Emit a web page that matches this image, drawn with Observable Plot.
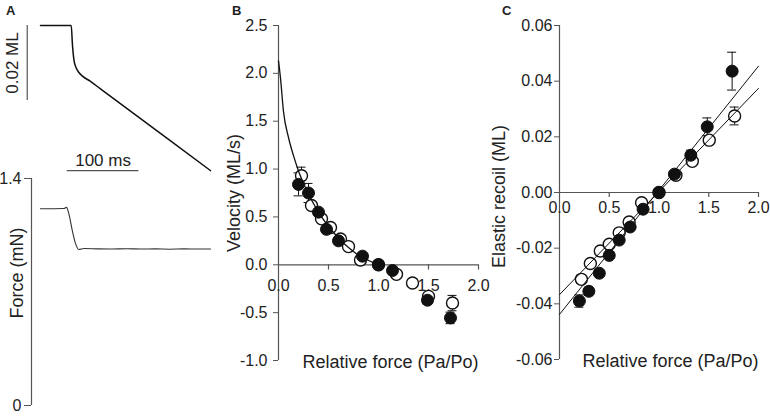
<!DOCTYPE html>
<html><head><meta charset="utf-8">
<script src="https://cdn.jsdelivr.net/npm/d3@7"></script>
<script src="https://cdn.jsdelivr.net/npm/@observablehq/plot@0.6"></script>
<style>
body{margin:0;background:#fff;}
#fig{position:relative;width:770px;height:417px;overflow:hidden;font-family:"Liberation Sans",Arial,sans-serif;background:#fff;}
#fig .panel{position:absolute;}
#fig .panel svg{overflow:visible;}
.lab{position:absolute;font-weight:bold;font-size:13px;color:#222;font-family:"Liberation Sans",Arial,sans-serif;}
</style>
</head><body><div id="fig"></div>
<script>
// ---------- Panel A data ----------
const lengthTime = [0, 42.8, 44.6, 46.7, 49.5, 53.0, 58.5, 69.7, 83.6, 130.1, 176.6, 237];
const lengthML   = [0, 0, -0.0053, -0.0093, -0.0112, -0.0124, -0.0135, -0.0149, -0.0169, -0.0235, -0.0301, -0.0387];
const forceTime  = [0, 32.6, 36.3, 39.5, 44.3, 48.9, 53.5, 60.5, 80, 100, 120, 140, 160, 180, 200, 220, 237];
const forceMN    = [1.213, 1.215, 1.222, 1.183, 1.08, 0.998, 0.962, 0.968, 0.966, 0.965, 0.967, 0.965, 0.966, 0.964, 0.966, 0.965, 0.965];
const forceTicks = [0, 1.4];
const scaleLengthML = 0.02;   // vertical scale bar
const scaleTimeMs = 100;      // horizontal scale bar
const scaleTimeStart = 37.2;
const scaleTimeLevel = -0.0387;
const scaleLengthTime = -18.5;

// ---------- Panel B data ----------
const curveForce = [0, 0.02, 0.05, 0.1, 0.15, 0.2, 0.3, 0.4, 0.5, 0.6, 0.7, 0.8, 0.9, 1.0];
const curveVel   = [2.13, 1.95, 1.60, 1.33, 1.14, 0.98, 0.74, 0.55, 0.40, 0.28, 0.18, 0.10, 0.045, 0.0];
const velFilledX = [0.20, 0.30, 0.40, 0.48, 0.60, 0.84, 1.00, 1.14, 1.49, 1.72];
const velFilledY = [0.84, 0.75, 0.55, 0.37, 0.25, 0.09, 0.00, -0.06, -0.37, -0.555];
const velFilledE = [0.12, 0.10, 0.03, 0.02, 0.02, 0.01, 0, 0.02, 0.04, 0.06];
const velOpenX   = [0.23, 0.33, 0.43, 0.52, 0.62, 0.70, 0.82, 1.00, 1.18, 1.34, 1.50, 1.74];
const velOpenY   = [0.93, 0.62, 0.48, 0.39, 0.27, 0.19, 0.05, 0.00, -0.10, -0.19, -0.33, -0.40];
const velOpenE   = [0.09, 0.03, 0.03, 0.02, 0.02, 0.02, 0.01, 0, 0.02, 0.02, 0.04, 0.08];
const yTicksB = [-1.0, -0.5, 0.0, 0.5, 1.0, 1.5, 2.0, 2.5];
const xTicksB = [0.0, 0.5, 1.0, 1.5, 2.0];

// ---------- Panel C data ----------
const recFilledX = [0.20, 0.295, 0.40, 0.50, 0.60, 0.71, 0.84, 1.00, 1.155, 1.32, 1.485, 1.735];
const recFilledY = [-0.039, -0.0355, -0.029, -0.0226, -0.0171, -0.0124, -0.006, 0, 0.0066, 0.0134, 0.0236, 0.0436];
const recFilledE = [0.0022, 0.0015, 0.001, 0.001, 0.001, 0.001, 0.001, 0, 0.001, 0.0018, 0.0032, 0.0068];
const recOpenX   = [0.22, 0.31, 0.41, 0.50, 0.60, 0.70, 0.825, 1.00, 1.17, 1.335, 1.505, 1.76];
const recOpenY   = [-0.0312, -0.0255, -0.021, -0.0186, -0.0145, -0.0106, -0.0037, 0, 0.0062, 0.0112, 0.0188, 0.0275];
const recOpenE   = [0.0015, 0.001, 0.001, 0.001, 0.001, 0.001, 0.001, 0, 0.001, 0.001, 0.0015, 0.0032];
const fitX       = [0, 2];
const fitFilledY = [-0.0438, 0.0454];
const fitOpenY   = [-0.0367, 0.0374];
const yTicksC = [-0.06, -0.04, -0.02, 0.00, 0.02, 0.04, 0.06];
const xTicksC = [0.0, 0.5, 1.0, 1.5, 2.0];

// ---------- helpers ----------
const FONT = '"Liberation Sans", Arial, sans-serif';
const AX = "#555";
const INK = "#111";
const zip = (xs, ys, es) => xs.map((x, i) => ({x, y: ys[i], e: es ? es[i] : 0}));
const fig = document.getElementById("fig");
function place(svg, left, top) {
  const d = document.createElement("div");
  d.className = "panel";
  d.style.left = left + "px"; d.style.top = top + "px";
  d.appendChild(svg); fig.appendChild(d);
}
function label(t, left, top) {
  const d = document.createElement("div");
  d.className = "lab"; d.textContent = t;
  d.style.left = left + "px"; d.style.top = top + "px";
  fig.appendChild(d);
}
const baseStyle = {fontFamily: FONT, fontSize: "16px", background: "transparent", color: "#222", overflow: "visible"};

// ---------- Panel A: length trace ----------
const lenData = zip(lengthTime, lengthML);
const pA1 = Plot.plot({
  width: 240, height: 200, marginLeft: 25.65, marginRight: 27.82, marginTop: 25, marginBottom: 2.5,
  x: {domain: [-20, 240], axis: null}, y: {domain: [-0.046, 0], axis: null},
  style: baseStyle,
  marks: [
    Plot.line(lenData, {x: "x", y: "y", stroke: INK, strokeWidth: 1.5, curve: "monotone-x"}),
    Plot.ruleX([scaleLengthTime], {x: d => d, y1: 0, y2: -scaleLengthML, stroke: AX, strokeWidth: 1.2}),
    Plot.text(["0.02 ML"], {x: () => scaleLengthTime, y: () => -scaleLengthML / 2, text: d => d, rotate: -90, dx: -15, fontSize: 17, textAnchor: "middle", lineAnchor: "middle", fill: "#222"}),
    Plot.ruleY([scaleTimeLevel], {y: d => d, x1: scaleTimeStart, x2: scaleTimeStart + scaleTimeMs, stroke: AX, strokeWidth: 1.2}),
    Plot.text(["100 ms"], {x: () => scaleTimeStart + scaleTimeMs / 2, y: () => scaleTimeLevel, text: d => d, dy: -10, fontSize: 17, textAnchor: "middle", lineAnchor: "middle", fill: "#222"})
  ]
});
place(pA1, 0, 0);

// ---------- Panel A: force trace ----------
const forceData = zip(forceTime, forceMN);
const pA2 = Plot.plot({
  width: 240, height: 257, marginLeft: 31, marginRight: 27.8, marginTop: 18, marginBottom: 12,
  x: {domain: [-12.5, 240], axis: null}, y: {domain: [0, 1.4]},
  style: baseStyle,
  marks: [
    Plot.ruleX([-12.5], {stroke: AX, strokeWidth: 1.2}),
    Plot.axisY({ticks: forceTicks, tickSize: 7, tickPadding: 3, tickFormat: d => d === 0 ? "0" : d.toFixed(1), label: null, stroke: AX, fontSize: 16}),
    Plot.line(forceData, {x: "x", y: "y", stroke: "#333", strokeWidth: 1.1, curve: "monotone-x"}),
    Plot.text(["Force (mN)"], {frameAnchor: "left", text: d => d, rotate: -90, dx: -14, dy: -19, fontSize: 18, textAnchor: "middle", lineAnchor: "middle", fill: "#222"})
  ]
});
place(pA2, 0, 160);

// ---------- Panel B ----------
const curveData = zip(curveForce, curveVel);
const vF = zip(velFilledX, velFilledY, velFilledE);
const vO = zip(velOpenX, velOpenY, velOpenE);
const errB = [...vF, ...vO].filter(d => d.e > 0);
const pB = Plot.plot({
  width: 300, height: 417, marginLeft: 78, marginRight: 22, marginTop: 25, marginBottom: 57,
  x: {domain: [0, 2], axis: null}, y: {domain: [-1, 2.5]},
  style: baseStyle,
  marks: [
    Plot.ruleX([0], {stroke: AX, strokeWidth: 1.2}),
    Plot.ruleY([0], {stroke: AX, strokeWidth: 1.2}),
    Plot.axisY({ticks: yTicksB, tickSize: 5, tickPadding: 6, tickFormat: d => d.toFixed(1), label: null, stroke: AX, fontSize: 16}),
    Plot.ruleX(xTicksB.slice(1), {x: d => d, y1: 0, y2: -0.055, stroke: AX, strokeWidth: 1.2}),
    Plot.text(xTicksB, {x: d => d, y: () => 0, text: d => d.toFixed(1), dy: 21, fontSize: 16, fill: "#222"}),
    Plot.ruleX(errB, {x: "x", y1: d => d.y - d.e, y2: d => d.y + d.e, stroke: INK, strokeWidth: 1}),
    Plot.ruleY(errB, {y: d => d.y + d.e, x1: d => d.x - 0.045, x2: d => d.x + 0.045, stroke: INK, strokeWidth: 1}),
    Plot.ruleY(errB, {y: d => d.y - d.e, x1: d => d.x - 0.045, x2: d => d.x + 0.045, stroke: INK, strokeWidth: 1}),
    Plot.dot(vO, {x: "x", y: "y", r: 6, fill: "white", stroke: INK, strokeWidth: 1.4}),
    Plot.dot(vF, {x: "x", y: "y", r: 6, fill: INK, stroke: INK, strokeWidth: 1}),
    Plot.line(curveData, {x: "x", y: "y", stroke: INK, strokeWidth: 1.3, curve: "monotone-x"}),
    Plot.text(["Relative force (Pa/Po)"], {x: () => 2.0, y: () => -1.0, text: d => d, textAnchor: "end", dy: 2, fontSize: 18, fill: "#222"}),
    Plot.text(["Velocity (ML/s)"], {frameAnchor: "left", text: d => d, rotate: -90, dx: -44, fontSize: 18, textAnchor: "middle", lineAnchor: "middle", fill: "#222"})
  ]
});
place(pB, 200, 0);

// ---------- Panel C ----------
const rF = zip(recFilledX, recFilledY, recFilledE);
const rO = zip(recOpenX, recOpenY, recOpenE);
const errC = [...rF, ...rO].filter(d => d.e > 0);
const fitF = zip(fitX, fitFilledY);
const fitO = zip(fitX, fitOpenY);
const pC = Plot.plot({
  width: 300, height: 417, marginLeft: 89, marginRight: 12, marginTop: 25, marginBottom: 58,
  x: {domain: [0, 2], axis: null}, y: {domain: [-0.06, 0.06]},
  style: baseStyle,
  marks: [
    Plot.ruleX([0], {stroke: AX, strokeWidth: 1.2}),
    Plot.ruleY([0], {stroke: AX, strokeWidth: 1.2}),
    Plot.axisY({ticks: yTicksC, tickSize: 5, tickPadding: 2, tickFormat: d => d.toFixed(2), label: null, stroke: AX, fontSize: 16}),
    Plot.ruleX(xTicksC.slice(1), {x: d => d, y1: 0, y2: -0.0018, stroke: AX, strokeWidth: 1.2}),
    Plot.text(xTicksC, {x: d => d, y: () => 0, text: d => d.toFixed(1), dy: 15, fontSize: 16, fill: "#222"}),
    Plot.ruleX(errC, {x: "x", y1: d => d.y - d.e, y2: d => d.y + d.e, stroke: INK, strokeWidth: 1}),
    Plot.ruleY(errC, {y: d => d.y + d.e, x1: d => d.x - 0.045, x2: d => d.x + 0.045, stroke: INK, strokeWidth: 1}),
    Plot.ruleY(errC, {y: d => d.y - d.e, x1: d => d.x - 0.045, x2: d => d.x + 0.045, stroke: INK, strokeWidth: 1}),
    Plot.dot(rO, {x: "x", y: "y", r: 6, fill: "white", stroke: INK, strokeWidth: 1.4}),
    Plot.dot(rF, {x: "x", y: "y", r: 6, fill: INK, stroke: INK, strokeWidth: 1}),
    Plot.line(fitF, {x: "x", y: "y", stroke: INK, strokeWidth: 1}),
    Plot.line(fitO, {x: "x", y: "y", stroke: INK, strokeWidth: 1}),
    Plot.text(["Relative force (Pa/Po)"], {x: () => 2.0, y: () => -0.06, text: d => d, textAnchor: "end", dy: 2, fontSize: 18, fill: "#222"}),
    Plot.text(["Elastic recoil (ML)"], {frameAnchor: "left", text: d => d, rotate: -90, dx: -60, dy: 4, fontSize: 18, textAnchor: "middle", lineAnchor: "middle", fill: "#222"})
  ]
});
place(pC, 470, 0);

label("A", 6, 3);
label("B", 232, 3);
label("C", 502, 3);
</script>
</body></html>
